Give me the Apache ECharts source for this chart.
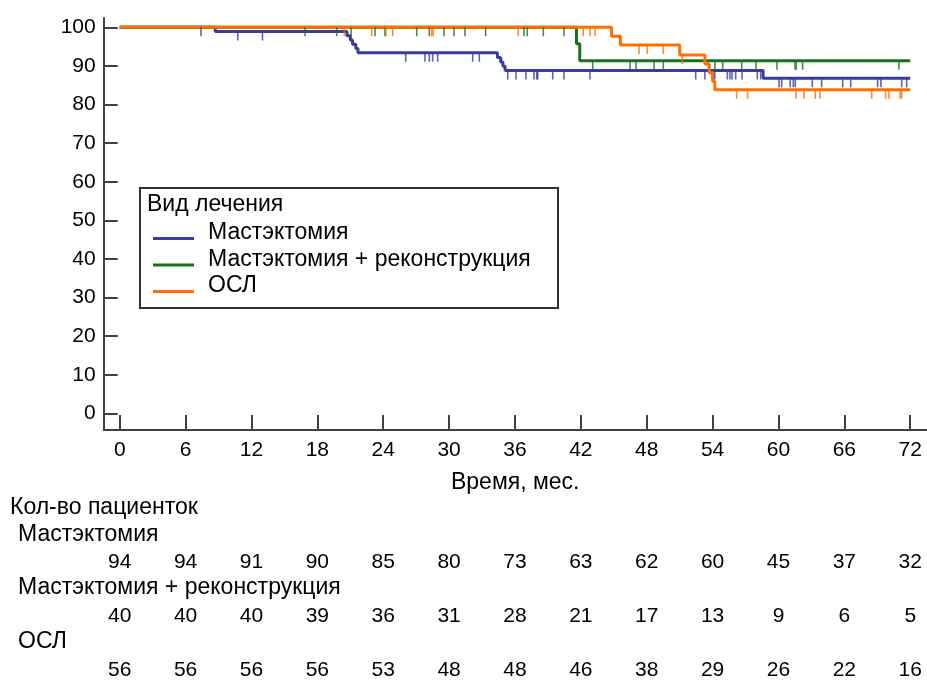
<!DOCTYPE html>
<html>
<head>
<meta charset="utf-8">
<script src="https://cdn.jsdelivr.net/npm/echarts@6/dist/echarts.min.js"></script>
<style>
  html, body { margin: 0; padding: 0; background: #ffffff; }
  #chart { width: 927px; height: 681px; }
</style>
</head>
<body>
<div id="chart"></div>
<script>
// Survival curves by treatment type (Kaplan–Meier, %), months of follow-up.
const groupNames = ['Мастэктомия', 'Мастэктомия + реконструкция', 'ОСЛ'];

// Step functions: event times (months) and survival (%)
const mastTimes = [0, 8.7, 20.7, 21.0, 21.2, 21.5, 21.7, 34.4, 34.7, 34.9, 35.1, 58.6, 72];
const mastSurv  = [100, 98.9, 97.8, 96.7, 95.6, 94.5, 93.4, 92.2, 91.0, 89.9, 88.8, 86.8, 86.8];

const reconTimes = [0, 41.6, 41.9, 72];
const reconSurv  = [100, 95.7, 91.3, 91.3];

const oslTimes = [0, 44.8, 45.6, 51.0, 53.3, 53.7, 54.0, 54.2, 72];
const oslSurv  = [100, 97.7, 95.4, 92.8, 90.5, 88.2, 86.0, 83.8, 83.8];

// Censored observations (months)
const mastCensored = [7.4, 10.75, 13.0, 26.05, 27.8, 28.2, 28.5, 28.96, 32.15, 32.75, 35.34, 36.09, 37.0,
  37.73, 37.98, 38.07, 39.44, 40.46, 42.83, 52.46, 53.3, 54.2, 55.34, 55.58, 55.77, 56.1, 56.68, 58.07,
  58.38, 60.05, 60.29, 61.07, 61.35, 61.53, 63.08, 63.93, 65.85, 66.58, 69.03, 69.33, 71.22, 71.68];
const reconCensored = [16.88, 19.76, 21.07, 23.25, 24.16, 27.05, 28.2, 29.54, 30.45, 31.45, 33.33, 36.82,
  37.12, 38.58, 40.46, 43.08, 46.48, 47.03, 48.67, 49.51, 54.2, 54.92, 56.65, 57.95, 59.86, 61.5, 61.62,
  62.2, 70.97];
const oslCensored = [20.46, 22.95, 24.25, 24.86, 28.42, 28.56, 36.3, 42.22, 42.83, 43.29, 47.3, 48.05,
  49.51, 51.24, 56.19, 57.19, 61.59, 62.32, 63.35, 63.78, 68.49, 69.76, 70.06, 71.07, 71.22];

// Axis ticks
const monthTicks = [0, 6, 12, 18, 24, 30, 36, 42, 48, 54, 60, 66, 72];
const percentTicks = [0, 10, 20, 30, 40, 50, 60, 70, 80, 90, 100];

// Number at risk at each month tick
const mastAtRisk  = [94, 94, 91, 90, 85, 80, 73, 63, 62, 60, 45, 37, 32];
const reconAtRisk = [40, 40, 40, 39, 36, 31, 28, 21, 17, 13, 9, 6, 5];
const oslAtRisk   = [56, 56, 56, 56, 53, 48, 48, 46, 38, 29, 26, 22, 16];

const colors = ['#3b3b9f', '#16731a', '#ff6e00'];
const FONT = '"Liberation Sans", Arial, sans-serif';
const FS = 21;     // numbers
const FS_TXT = 23; // words
const AXIS_COLOR = '#404040';
const X_MIN = -1.46, X_MAX = 73.5;
const Y_MIN = -4.3, Y_MAX = 102.4;

function zip(times, surv) { return times.map((t, i) => [t, surv[i]]); }
function levelAt(times, surv, t) {
  let v = surv[0];
  for (let i = 0; i < times.length; i++) { if (times[i] <= t) v = surv[i]; }
  return v;
}
function censorPoints(cens, times, surv) { return cens.map(t => [t, levelAt(times, surv, t)]); }

const curves = [
  { times: mastTimes, surv: mastSurv, cens: mastCensored },
  { times: reconTimes, surv: reconSurv, cens: reconCensored },
  { times: oslTimes, surv: oslSurv, cens: oslCensored }
];

const lineSeries = curves.map((c, i) => ({
  name: groupNames[i],
  type: 'line',
  step: 'end',
  symbol: 'none',
  data: zip(c.times, c.surv),
  lineStyle: { color: colors[i], width: 3 },
  itemStyle: { color: colors[i] },
  silent: true,
  z: 2
}));
const censorSeries = curves.map((c, i) => ({
  name: groupNames[i] + ' (цензур.)',
  type: 'scatter',
  data: censorPoints(c.cens, c.times, c.surv),
  symbol: 'rect',
  symbolSize: [1.6, 9],
  symbolOffset: [0, 4.5],
  itemStyle: { color: colors[i] },
  silent: true,
  z: 3
}));

function atRiskAxis(values, offset) {
  return {
    type: 'value', position: 'bottom', min: X_MIN, max: X_MAX, offset: offset,
    axisLine: { show: false }, axisTick: { show: false }, splitLine: { show: false },
    axisLabel: {
      customValues: monthTicks, margin: 10, color: '#000', fontFamily: FONT, fontSize: FS,
      formatter: v => String(values[monthTicks.indexOf(Math.round(v))])
    }
  };
}

function label(text, left, top) {
  return { type: 'text', left: left, top: top, z: 11,
    style: { text: text, fill: '#000', font: FS_TXT + 'px ' + FONT } };
}

const chart = echarts.init(document.getElementById('chart'), null, { renderer: 'canvas' });
chart.setOption({
  animation: false,
  backgroundColor: '#ffffff',
  grid: { left: 103.7, right: 0.3, top: 18, bottom: 250.3, containLabel: false },
  xAxis: [
    {
      type: 'value', min: X_MIN, max: X_MAX,
      name: 'Время, мес.', nameLocation: 'middle', nameGap: 41,
      nameTextStyle: { color: '#000', fontFamily: FONT, fontSize: FS_TXT },
      axisLine: { onZero: false, lineStyle: { color: AXIS_COLOR, width: 2 } },
      axisTick: { inside: true, length: 15, customValues: monthTicks, lineStyle: { color: AXIS_COLOR, width: 2 } },
      axisLabel: { customValues: monthTicks, margin: 10, color: '#000', fontFamily: FONT, fontSize: FS },
      splitLine: { show: false }
    },
    atRiskAxis(mastAtRisk, 112),
    atRiskAxis(reconAtRisk, 166),
    atRiskAxis(oslAtRisk, 220)
  ],
  yAxis: {
    type: 'value', min: Y_MIN, max: Y_MAX,
    axisLine: { onZero: false, lineStyle: { color: AXIS_COLOR, width: 2 } },
    axisTick: { inside: true, length: 14, customValues: percentTicks, lineStyle: { color: AXIS_COLOR, width: 2 } },
    axisLabel: { customValues: percentTicks, margin: 8, color: '#000', fontFamily: FONT, fontSize: FS },
    splitLine: { show: false }
  },
  legend: {
    data: groupNames,
    orient: 'vertical',
    left: 153, top: 221.5,
    padding: 0,
    itemGap: 3.5,
    itemWidth: 50, itemHeight: 14,
    icon: 'path://M0,0L0.01,0L0.01,0.01Z M49.99,0L50,0L50,0.01Z M0,11L41,11L41,14L0,14Z',
    selectedMode: false,
    textStyle: { color: '#000', fontFamily: FONT, fontSize: FS_TXT, lineHeight: 23 },
    z: 10
  },
  graphic: [
    { type: 'rect', z: 5, shape: { x: 140, y: 188, width: 418, height: 120 },
      style: { fill: '#ffffff', stroke: '#333333', lineWidth: 2 } },
    label('Вид лечения', 147, 193.5),
    label('Кол-во пациенток', 10, 496.5),
    label(groupNames[0], 18, 523.5),
    label(groupNames[1], 18, 576.5),
    label(groupNames[2], 18, 630.5)
  ],
  series: lineSeries.concat(censorSeries)
});
</script>
</body>
</html>
